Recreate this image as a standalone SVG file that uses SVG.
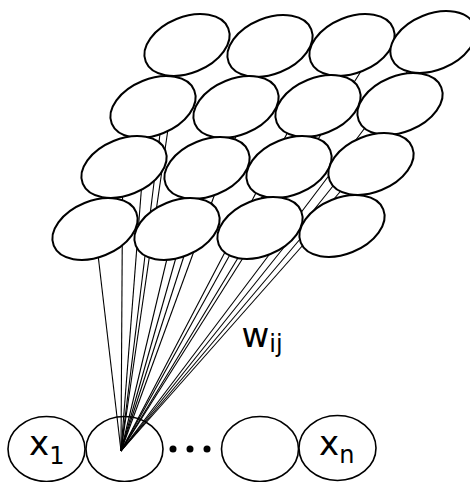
<svg xmlns="http://www.w3.org/2000/svg" width="470" height="482" viewBox="0 0 470 482">
<style>
.bg{fill:#fff}
.in ellipse{fill:#fff;stroke:#000;stroke-width:1.6}
.grid ellipse{fill:#fff;stroke:#000;stroke-width:2}
.conn line{stroke:#000;stroke-width:1.1}
.lbl{font-family:"DejaVu Sans",sans-serif;font-size:34px;fill:#000}
.sub{font-size:24px}
</style>
<rect class="bg" x="0" y="0" width="470" height="482"/>
<g class="in">
  <g id="in1"><ellipse cx="46.5" cy="449" rx="38.5" ry="32.5"/><text class="lbl" x="29" y="455">x<tspan class="sub" dy="9">1</tspan></text></g>
  <g id="in2"><ellipse cx="124.5" cy="449" rx="38.5" ry="32.5"/></g>
  <g id="dots"><circle cx="173" cy="449" r="3.5"/><circle cx="190" cy="449" r="3.5"/><circle cx="207" cy="449" r="3.5"/></g>
  <g id="in3"><ellipse cx="260" cy="449" rx="38.5" ry="32.5"/></g>
  <g id="in4"><ellipse cx="337.5" cy="448" rx="38.5" ry="32.5"/><text class="lbl" x="319" y="455">x<tspan class="sub" dy="8">n</tspan></text></g>
</g>
<g class="conn" id="connectors">
  <line x1="121" y1="451" x2="95" y2="229"/>
  <line x1="121" y1="451" x2="122.7" y2="167"/>
  <line x1="121" y1="451" x2="147.8" y2="107"/>
  <line x1="121" y1="451" x2="163.3" y2="107"/>
  <line x1="121" y1="451" x2="180.3" y2="45"/>
  <line x1="121" y1="451" x2="174.1" y2="229"/>
  <line x1="121" y1="451" x2="201.7" y2="167"/>
  <line x1="121" y1="451" x2="232.1" y2="107"/>
  <line x1="121" y1="451" x2="269.2" y2="45"/>
  <line x1="121" y1="451" x2="377.6" y2="45"/>
  <line x1="121" y1="451" x2="300.9" y2="107"/>
  <line x1="121" y1="451" x2="278.6" y2="167"/>
  <line x1="121" y1="451" x2="255.5" y2="229"/>
  <line x1="121" y1="451" x2="427.5" y2="45"/>
  <line x1="121" y1="451" x2="396.2" y2="107"/>
  <line x1="121" y1="451" x2="361" y2="167"/>
  <line x1="121" y1="451" x2="317.2" y2="229"/>
</g>
<g class="grid">
  <g id="n11"><ellipse rx="44.5" ry="28" transform="translate(187 45) rotate(-22)"/></g>
  <g id="n12"><ellipse rx="44.5" ry="28" transform="translate(270 46) rotate(-22)"/></g>
  <g id="n13"><ellipse rx="44.5" ry="28" transform="translate(352 45) rotate(-22)"/></g>
  <g id="n14"><ellipse rx="44.5" ry="28" transform="translate(433 42) rotate(-22)"/></g>
  <g id="n21"><ellipse rx="44.5" ry="28" transform="translate(153 107) rotate(-22)"/></g>
  <g id="n22"><ellipse rx="44.5" ry="28" transform="translate(236 107) rotate(-22)"/></g>
  <g id="n23"><ellipse rx="44.5" ry="28" transform="translate(318 106) rotate(-22)"/></g>
  <g id="n24"><ellipse rx="44.5" ry="28" transform="translate(400 104) rotate(-22)"/></g>
  <g id="n31"><ellipse rx="44.5" ry="28" transform="translate(124 167) rotate(-22)"/></g>
  <g id="n32"><ellipse rx="44.5" ry="28" transform="translate(207 168) rotate(-22)"/></g>
  <g id="n33"><ellipse rx="44.5" ry="28" transform="translate(289 167) rotate(-22)"/></g>
  <g id="n34"><ellipse rx="44.5" ry="28" transform="translate(371 164) rotate(-22)"/></g>
  <g id="n41"><ellipse rx="44.5" ry="28" transform="translate(95 229) rotate(-22)"/></g>
  <g id="n42"><ellipse rx="44.5" ry="28" transform="translate(177 229) rotate(-22)"/></g>
  <g id="n43"><ellipse rx="44.5" ry="28" transform="translate(260 228) rotate(-22)"/></g>
  <g id="n44"><ellipse rx="44.5" ry="28" transform="translate(342 226) rotate(-22)"/></g>
</g>
<text class="lbl" id="wij" x="241.5" y="347">w<tspan class="sub" dy="5">ij</tspan></text>
</svg>
